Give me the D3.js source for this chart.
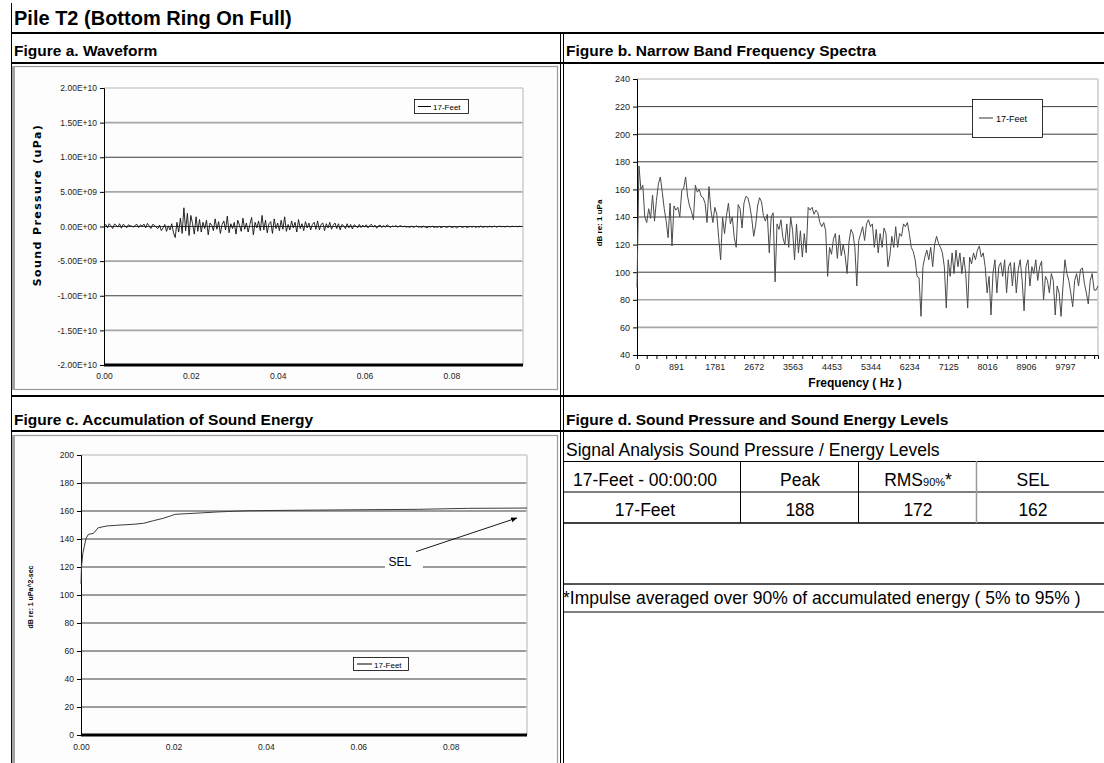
<!DOCTYPE html>
<html>
<head>
<meta charset="utf-8">
<script src="https://cdn.jsdelivr.net/npm/d3@7/dist/d3.min.js"></script>
<style>
html,body{margin:0;padding:0;background:#ffffff;}
svg text{font-family:"Liberation Sans",Arial,Helvetica,sans-serif;}
</style>
</head>
<body>
<svg id="chart" width="1104" height="763"></svg>
<script>
// ---------------- DATA ----------------
const pageTitle = "Pile T2 (Bottom Ring On Full)";
const panelTitles = [
  "Figure a. Waveform",
  "Figure b. Narrow Band Frequency Spectra",
  "Figure c. Accumulation of Sound Energy",
  "Figure d. Sound Pressure and Sound Energy Levels"
];
const seriesName = "17-Feet";

// Figure a: waveform (values in units of 1e9 uPa), one sample every waveformStepSec
const waveformStepSec = 0.0004;
const waveformPressureE9 = [
  0.0, 0.3, -0.2, 0.4, 0.1, -0.3, 0.35, 0.2, -0.1, 0.4, -0.25, 0.3, 0.15, -0.2, 0.25, 0.1, 0.05, -0.1, 0.2, 0.3,
  -0.15, 0.25, 0.05, 0.35, -0.2, 0.45, 0.1, -0.3, 0.3, 0.2, -0.1,
  -0.3, 0.2, -0.6, -0.2, 0.3, -0.7, 0.1, -0.5, 0.4, -0.9, -1.6,
  0.6, -0.8, 1.2, -1.0, 2.7, -0.6, 1.9, -1.3, 1.6, 0.4, -1.1, 1.4, -0.7, 1.0,
  -0.8, 0.6, -0.3, 0.9, -1.2, 0.5, 0.2, -0.6, 1.1, -0.4, 0.7, -1.0, 0.3, 0.8, -0.5, 1.5, -0.9, 0.4, -0.3, 0.6,
  -1.1, 0.9, 0.2, -0.7, 1.2, -0.4, 0.5, -0.8, 0.3, 1.3, -1.2, 0.6, -0.2, 0.8, -0.6, 1.6, -0.5, 0.9, -0.9, 0.4,
  0.7, -1.0, 1.1, -0.3, 0.5, -0.6, 0.9, -0.4, 1.4, -0.7, 0.3, -0.5, 0.8, -0.2, 0.6, -0.8, 1.0, -0.3, 0.4, -0.6,
  0.7, -0.2, 0.5, -0.5, 0.3,
  0.6, -0.4, 0.8, -0.5, 0.3, 0.5, -0.6, 0.4, -0.2, 0.6, -0.4, 0.2, 0.5, -0.3, 0.4, -0.5, 0.3, 0.1, -0.3, 0.4,
  -0.2, 0.3, -0.35, 0.25, 0.1, -0.2, 0.3, -0.15, 0.2, -0.1,
  0.25, -0.2, 0.15, 0.3, -0.1, 0.2, -0.25, 0.1, 0.2, -0.15, 0.15, -0.1, 0.25, 0.05, -0.15, 0.1, -0.05, 0.15, -0.1, 0.05,
  0.1, -0.05, 0.05, -0.1, 0.0, -0.15, 0.05, -0.1, -0.05, 0.1, -0.12, -0.02, -0.15, 0.05, -0.1, -0.2, 0.0, -0.1, 0.05, -0.15,
  -0.05, -0.12, 0.02, -0.18, -0.05, 0.0, -0.12, -0.08, 0.05, -0.15, -0.1, 0.0, -0.2, -0.05, 0.05, -0.12, -0.08, 0.02, -0.15, -0.05,
  0.0, -0.1, 0.05, -0.15, -0.02, -0.1, 0.08, -0.12, -0.05, 0.0, -0.1, 0.05, -0.08, -0.02, 0.05, -0.1, 0.0, 0.05, -0.05, 0.02,
  -0.08, 0.05, 0.0, -0.05, 0.05, -0.02, 0.03, -0.05, 0.04, 0.0, 0.02
];
const waveTimeTicks = [0, 0.02, 0.04, 0.06, 0.08];
const pressureTicks = [2e10, 1.5e10, 1e10, 5e9, 0, -5e9, -1e10, -1.5e10, -2e10];
const pressureTickLabels = ["2.00E+10", "1.50E+10", "1.00E+10", "5.00E+09", "0.00E+00",
  "-5.00E+09", "-1.00E+10", "-1.50E+10", "-2.00E+10"];

// Figure b: narrow band spectrum, one value every spectrumStepHz starting at 0 Hz
const spectrumStepHz = 44.53125;
const spectrumLevelDb = [
  89, 177, 160, 163, 140, 136, 146, 139, 156, 137,
  152, 164, 169, 158, 146, 137, 125, 150, 119, 148,
  145, 147, 140, 159, 161, 169, 155, 148, 144, 138,
  163, 158, 160, 155, 154, 150, 136, 162, 145, 136,
  147, 142, 125, 109, 140, 128, 141, 150, 135, 140,
  125, 118, 149, 146, 132, 150, 155, 154, 148, 139,
  126, 134, 148, 154, 151, 141, 137, 142, 114, 140,
  143, 93, 135, 131, 138, 125, 120, 135, 118, 140,
  130, 109, 135, 114, 130, 111, 128, 114, 147, 145,
  147, 142, 145, 143, 136, 133, 136, 130, 97, 118,
  113, 124, 128, 110, 127, 112, 120, 112, 99, 122,
  131, 128, 118, 90, 123,
  128, 133, 123, 135, 138, 133, 135, 118, 131, 114,
  128, 118, 132, 128, 104, 112, 126, 118, 133, 118,
  128, 126, 135, 133, 136, 128, 118, 115, 109, 97,
  96, 68, 104, 111, 116, 109, 118, 104, 120, 126,
  121, 118, 114, 104, 74, 109, 97, 114, 99, 116,
  104, 114, 99, 111, 99, 74, 111, 106, 114, 109,
  116, 119, 111, 114, 104, 85, 97, 69, 99, 109,
  85, 104, 107, 97, 109, 85, 104, 107, 90, 107,
  85, 102, 109, 94, 72, 104, 109, 90, 104, 99,
  109, 94, 104, 108, 80, 97, 94, 85, 99, 94,
  69, 90, 85, 68, 90, 109, 99, 94, 85, 75,
  94, 99, 90, 102, 103, 92, 85, 77, 94, 99,
  87, 87, 90
];
const freqLabelStepHz = 890.625;
const freqMinorStepHz = 222.65625;
const freqTickLabels = ["0", "891", "1781", "2672", "3563", "4453", "5344", "6234", "7125", "8016", "8906", "9797"];
const levelTicks = [40, 60, 80, 100, 120, 140, 160, 180, 200, 220, 240];
const levelGreyTicks = [60, 80, 160];

// Figure c: accumulated sound energy
const selTimeSec = [0, 0.0001, 0.0004, 0.0007, 0.0011, 0.0016, 0.0027, 0.0037, 0.0056, 0.0077,
  0.0113, 0.0135, 0.0157, 0.0178, 0.0193, 0.0203, 0.0229, 0.0258, 0.0294, 0.0330,
  0.0366, 0.0452, 0.0730, 0.0838, 0.0965];
const selLevelDb = [108, 120, 129.8, 134.5, 140.5, 143.3, 144, 148, 149.3, 149.8,
  150.5, 151.2, 153.1, 154.8, 156.4, 157.6, 158.1, 158.6, 159.3, 159.8,
  160.2, 160.5, 161.2, 161.9, 162.1];
const energyTicks = [0, 20, 40, 60, 80, 100, 120, 140, 160, 180, 200];
const energyTimeTicks = [0, 0.02, 0.04, 0.06, 0.08];
const selAnnotation = {label: "SEL", textT: 0.0690, textDb: 124, fromT: 0.0725, fromDb: 131, toT: 0.0943, toDb: 155};

// Figure d: table
const tableTitle = "Signal Analysis Sound Pressure / Energy Levels";
const tableHeader = ["17-Feet - 00:00:00", "Peak", "RMS", "SEL"];
const tableRow = ["17-Feet", "188", "172", "162"];
const footnote = "*Impulse averaged over 90% of accumulated energy ( 5% to 95% )";

// ---------------- DRAWING ----------------
const svg = d3.select("#chart");
const g = svg.append("g");

function hline(x1, x2, y, color, w) {
  g.append("line").attr("x1", x1).attr("x2", x2).attr("y1", y).attr("y2", y)
    .attr("stroke", color).attr("stroke-width", w);
}
function vline(x, y1, y2, color, w) {
  g.append("line").attr("x1", x).attr("x2", x).attr("y1", y1).attr("y2", y2)
    .attr("stroke", color).attr("stroke-width", w);
}
function txt(x, y, s, size, weight, anchor, fill) {
  return g.append("text").attr("x", x).attr("y", y).text(s)
    .attr("font-size", size).attr("font-weight", weight || "normal")
    .attr("text-anchor", anchor || "start").attr("fill", fill || "#000");
}

// --- page frame ---
vline(11.5, 3, 763, "#000", 1);
txt(14, 25, pageTitle, 20, "bold");
hline(11, 1104, 33, "#000", 2);
txt(14, 56, panelTitles[0], 15.5, "bold");
txt(566, 56, panelTitles[1], 15.5, "bold");
hline(11, 1104, 63, "#000", 2);
vline(560.5, 33, 763, "#000", 1);
vline(563.5, 33, 763, "#000", 1);
hline(11, 1104, 396, "#000", 2);
txt(14, 425, panelTitles[2], 15.5, "bold");
txt(566, 425, panelTitles[3], 15.5, "bold");
hline(11, 1104, 431, "#000", 2);

// ================= Figure a =================
const xa = d3.scaleLinear().domain([0, 0.0965]).range([104, 523]);
const ya = d3.scaleLinear().domain([-2e10, 2e10]).range([365, 88]);

g.append("rect").attr("x", 12.5).attr("y", 66.5).attr("width", 545).attr("height", 323)
  .attr("fill", "#fdfdfd").attr("stroke", "#9a9a9a").attr("stroke-width", 1.2);
g.append("rect").attr("x", 12).attr("y", 66).attr("width", 3).attr("height", 324).attr("fill", "#a3a3a3");

pressureTicks.forEach(t => {
  if (t === -2e10) return;
  const top = t === 2e10;
  const major = t % 1e10 === 0;
  hline(104, 523, ya(t), top ? "#cccccc" : (major ? "#3c3c3c" : "#a6a6a6"), top ? 1.5 : (major ? 1 : 1.6));
});
vline(523, 88, 365, "#cccccc", 1.5);

const ayAxis = d3.axisLeft(ya).tickValues(pressureTicks)
  .tickFormat((d, i) => pressureTickLabels[i]).tickSize(4).tickPadding(3);
const ayG = g.append("g").attr("transform", "translate(104,0)").call(ayAxis);
ayG.selectAll("text").attr("font-size", 8.5).attr("fill", "#222");

const axAxis = d3.axisBottom(xa).tickValues(waveTimeTicks).tickFormat(d3.format(".2f")).tickSize(0).tickPadding(8);
const axG = g.append("g").attr("transform", "translate(0,365)").call(axAxis);
axG.selectAll("text").attr("font-size", 8.5).attr("fill", "#222");
axG.select(".domain").remove();
hline(104, 523, 365, "#000", 3);

const waveLine = d3.line().x((d, i) => xa(i * waveformStepSec)).y(d => ya(d * 1e9));
g.append("path").datum(waveformPressureE9).attr("d", waveLine)
  .attr("fill", "none").attr("stroke", "#111").attr("stroke-width", 0.9);

g.append("text").attr("transform", "translate(41,205) rotate(-90)")
  .attr("text-anchor", "middle").attr("font-size", 11).attr("font-weight", "bold")
  .style("font-family", "'DejaVu Sans',Verdana,sans-serif").attr("letter-spacing", 1.4)
  .text("Sound Pressure (uPa)");

g.append("rect").attr("x", 414.5).attr("y", 99.5).attr("width", 54).attr("height", 14)
  .attr("fill", "#fff").attr("stroke", "#000").attr("stroke-width", 0.8);
hline(418, 431, 106.5, "#000", 1);
txt(433, 110, seriesName, 8, "normal");

// ================= Figure b =================
const xb = d3.scaleLinear().domain([0, (spectrumLevelDb.length - 1) * spectrumStepHz]).range([637, 1098]);
const yb = d3.scaleLinear().domain([40, 240]).range([355, 79]);

levelTicks.forEach(t => {
  if (t === 40) return;
  const top = t === 240;
  const grey = levelGreyTicks.includes(t);
  hline(637, 1098, yb(t), top ? "#cccccc" : (grey ? "#a6a6a6" : "#3c3c3c"), top ? 1.5 : (grey ? 1.6 : 1));
});
vline(1098, 79, 355, "#cccccc", 1.5);

const byAxis = d3.axisLeft(yb).tickValues(levelTicks).tickSize(4).tickPadding(3);
const byG = g.append("g").attr("transform", "translate(637,0)").call(byAxis);
byG.selectAll("text").attr("font-size", 9).attr("fill", "#222");

const maxF = (spectrumLevelDb.length - 1) * spectrumStepHz;
const minorTicks = d3.range(0, maxF + 1, freqMinorStepHz);
const bxMinor = d3.axisBottom(xb).tickValues(minorTicks).tickFormat("").tickSize(4);
g.append("g").attr("transform", "translate(0,355)").call(bxMinor);
const labelTicks = freqTickLabels.map((s, i) => i * freqLabelStepHz);
const bxAxis = d3.axisBottom(xb).tickValues(labelTicks).tickFormat((d, i) => freqTickLabels[i]).tickSize(0).tickPadding(9);
const bxG = g.append("g").attr("transform", "translate(0,355)").call(bxAxis);
bxG.selectAll("text").attr("font-size", 9).attr("fill", "#222");
bxG.select(".domain").remove();

const specLine = d3.line().x((d, i) => xb(i * spectrumStepHz)).y(d => yb(d));
g.append("path").datum(spectrumLevelDb).attr("d", specLine)
  .attr("fill", "none").attr("stroke", "#4a4a4a").attr("stroke-width", 1);

g.append("text").attr("transform", "translate(602,223) rotate(-90)")
  .attr("text-anchor", "middle").attr("font-size", 8).attr("font-weight", "bold")
  .text("dB re: 1 uPa");
txt(855, 387, "Frequency ( Hz )", 12, "bold", "middle");

g.append("rect").attr("x", 972.5).attr("y", 99.5).attr("width", 70).attr("height", 38)
  .attr("fill", "#fff").attr("stroke", "#000").attr("stroke-width", 0.8);
hline(979, 993, 118, "#999", 2);
txt(996, 121.5, seriesName, 9, "normal");

// ================= Figure c =================
const xc = d3.scaleLinear().domain([0, 0.0965]).range([81, 527]);
const yc = d3.scaleLinear().domain([0, 200]).range([735, 455]);

g.append("rect").attr("x", 12.5).attr("y", 435.5).attr("width", 545).attr("height", 340)
  .attr("fill", "#fdfdfd").attr("stroke", "#9a9a9a").attr("stroke-width", 1.2);
g.append("rect").attr("x", 12).attr("y", 435).attr("width", 3).attr("height", 330).attr("fill", "#a3a3a3");

energyTicks.forEach(t => {
  if (t === 0) return;
  const top = t === 200;
  hline(81, 527, yc(t), top ? "#cccccc" : "#3c3c3c", top ? 1.5 : 1);
});
vline(527, 455, 735, "#cccccc", 1.5);

const cyAxis = d3.axisLeft(yc).tickValues(energyTicks).tickSize(4).tickPadding(3);
const cyG = g.append("g").attr("transform", "translate(81,0)").call(cyAxis);
cyG.selectAll("text").attr("font-size", 8.5).attr("fill", "#222");
const cxAxis = d3.axisBottom(xc).tickValues(energyTimeTicks).tickFormat(d3.format(".2f")).tickSize(0).tickPadding(9);
const cxG = g.append("g").attr("transform", "translate(0,735)").call(cxAxis);
cxG.selectAll("text").attr("font-size", 8.5).attr("fill", "#222");
cxG.select(".domain").remove();
hline(81, 527, 735, "#000", 3);

const selLine = d3.line().x((d, i) => xc(selTimeSec[i])).y(d => yc(d));
g.append("path").datum(selLevelDb).attr("d", selLine)
  .attr("fill", "none").attr("stroke", "#3a3a3a").attr("stroke-width", 1);

g.append("text").attr("transform", "translate(33,597) rotate(-90)")
  .attr("text-anchor", "middle").attr("font-size", 7).attr("font-weight", "bold")
  .text("dB re: 1 uPa^2-sec");

// SEL annotation
svg.append("defs").append("marker").attr("id", "arr").attr("viewBox", "0 0 10 10")
  .attr("refX", 9).attr("refY", 5).attr("markerWidth", 7).attr("markerHeight", 7)
  .attr("orient", "auto").append("path").attr("d", "M0,1 L10,5 L0,9 z").attr("fill", "#000");
const selTx = xc(selAnnotation.textT), selTy = yc(selAnnotation.textDb);
g.append("rect").attr("x", selTx - 15).attr("y", selTy - 11).attr("width", 38).attr("height", 22).attr("fill", "#fdfdfd");
txt(selTx, selTy + 5, selAnnotation.label, 12, "normal", "middle");
g.append("line").attr("x1", xc(selAnnotation.fromT)).attr("y1", yc(selAnnotation.fromDb))
  .attr("x2", xc(selAnnotation.toT)).attr("y2", yc(selAnnotation.toDb))
  .attr("stroke", "#000").attr("stroke-width", 0.9).attr("marker-end", "url(#arr)");

g.append("rect").attr("x", 353.5).attr("y", 657.5).attr("width", 55).attr("height", 13)
  .attr("fill", "#fff").attr("stroke", "#000").attr("stroke-width", 0.8);
hline(357, 372, 664, "#000", 1);
txt(374, 667.5, seriesName, 8, "normal");

// ================= Figure d =================
const colCenters = [645, 800, 918, 1033];
txt(566, 456, tableTitle, 17.5, "normal");
hline(564, 1104, 461.5, "#000", 1.2);
tableHeader.forEach((s, i) => {
  const t = txt(colCenters[i], 486, s, 17.5, "normal", "middle");
  if (i === 2) {
    t.append("tspan").attr("font-size", 11).text("90%");
    t.append("tspan").text("*");
  }
});
hline(564, 1104, 492, "#000", 1.2);
tableRow.forEach((s, i) => txt(colCenters[i], 516, s, 17.5, "normal", "middle"));
hline(564, 1104, 523, "#000", 1.5);
vline(740.5, 461, 523, "#000", 1);
vline(858.5, 461, 523, "#000", 1);
vline(976.5, 461, 523, "#999", 1.5);
hline(564, 1104, 584, "#555", 2);
txt(563, 604, footnote, 17.5, "normal");
hline(564, 1104, 612, "#000", 1);
</script>
</body>
</html>
